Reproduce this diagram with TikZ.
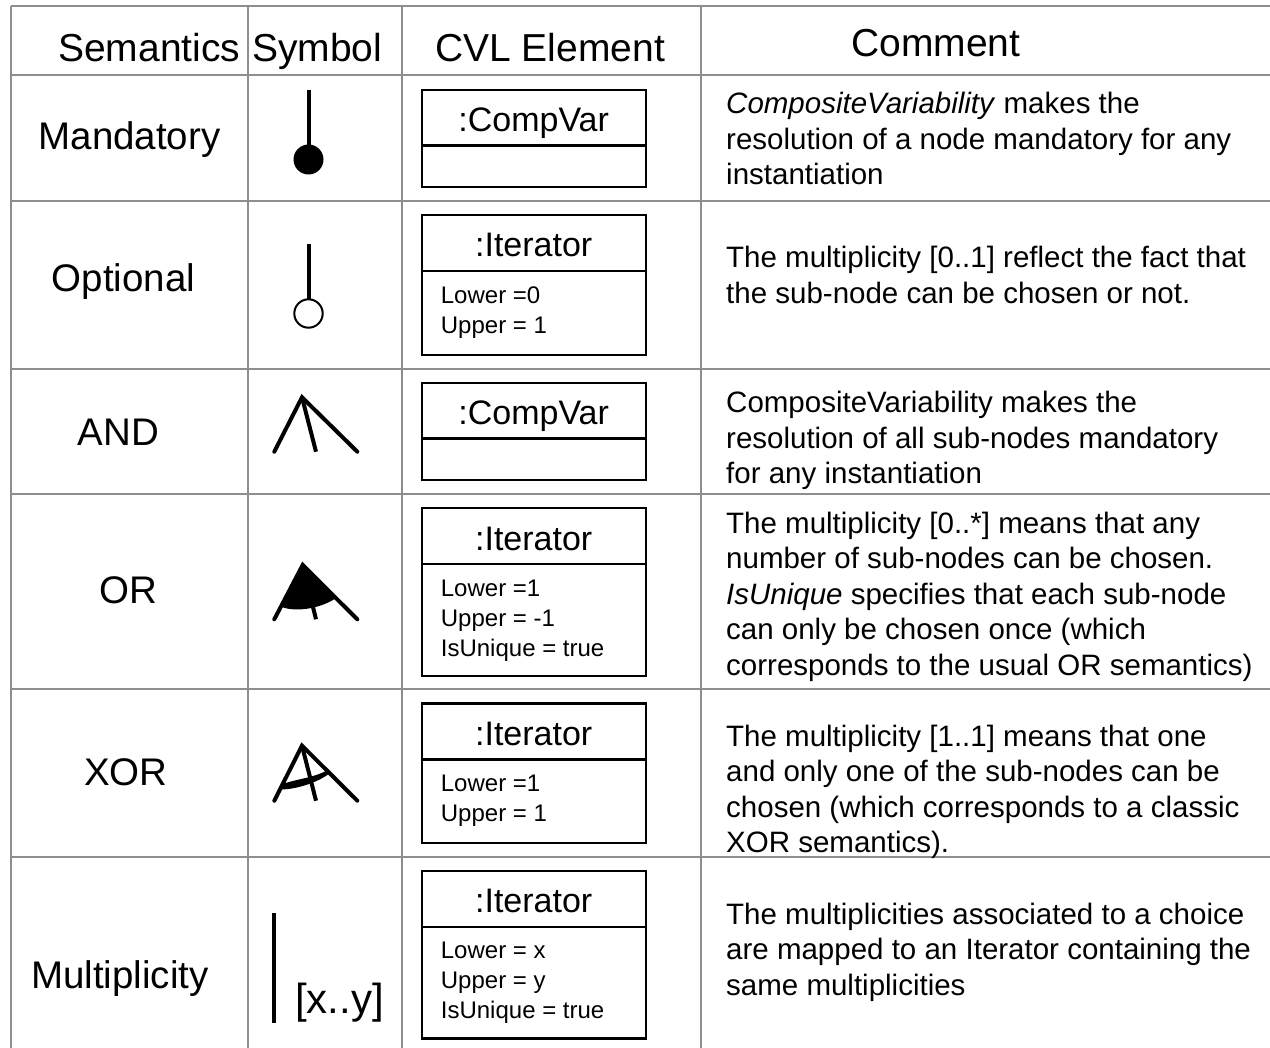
\documentclass[tikz,border=0pt]{standalone}
\usepackage{fontspec}
\setmainfont{Liberation Sans}
\definecolor{gridgray}{HTML}{8E8E8E}
\begin{document}
\begin{tikzpicture}[x=1pt,y=-1pt,
  gridline/.style={draw=gridgray, line width=2.2pt},
  hdr/.style={font=\fontsize{39}{47}\selectfont, inner sep=0pt, anchor=base west},
  sem/.style={font=\fontsize{38.5}{46}\selectfont, inner sep=0pt, anchor=base},
  cvl/.style={draw=black, line width=2.4pt},
  ttl/.style={font=\fontsize{34}{40}\selectfont, inner sep=0pt, anchor=base},
  attr/.style={font=\fontsize{24}{30}\selectfont, inner sep=0pt, anchor=base west, align=left},
  cmt/.style={font=\fontsize{29.5}{35.5}\selectfont, inner sep=0pt, anchor=base west, align=left},
  symline/.style={line width=4pt}]
\useasboundingbox (0,0) rectangle (1270,1048);
\fill[white] (0,0) rectangle (1270,1048);
% grid
\foreach \x in {11,248,402,701} \draw[gridline] (\x,6) -- (\x,1048);
\foreach \y in {6,75,201,369,494,689,857} \draw[gridline] (11,\y) -- (1270,\y);
% header
\node[hdr] (hsem) at (58,62) {Semantics};
\node[hdr] (hsym) at (252,62) {Symbol};
\node[hdr] (hcvl) at (435,62) {CVL Element};
\node[hdr] (hcom) at (851,57) {Comment};
% semantics
\node[sem] (smand) at (129.5,150) {Mandatory};
\node[sem] (sopt) at (123.5,292) {Optional};
\node[sem] (sand) at (118.5,446) {AND};
\node[sem] (sor) at (128.5,603) {OR};
\node[sem] (sxor) at (126,785) {XOR};
\node[sem] (smul) at (120,988) {Multiplicity};
% symbols
\draw[symline] (309.3,90) -- (309.3,150);
\fill (308.5,159.5) circle (15);
\draw[symline] (308.7,244) -- (308.7,300);
\draw[line width=2pt] (308.5,313.5) circle (14.2);
% AND
\draw[symline, line cap=round] (274.3,451.7) -- (302,397.3) -- (357.3,451.7);
\draw[symline] (302,397.3) -- (316,451.7);
% OR
\fill (302.7,565) -- (280.9,606.6) .. controls (293,612) and (318,610) .. (336,598.1) -- cycle;
\draw[symline, line cap=round] (274.3,619.3) -- (302.7,565) -- (357.3,619.3);
\draw[symline] (302.7,565) -- (316,619.3);
% XOR
\draw[symline, line cap=round] (274.3,800.7) -- (302,745.7) -- (357.3,800.7);
\draw[symline] (302,745.7) -- (316,800.7);
\fill (281.7,784.5) .. controls (295,779) and (315,778) .. (328.3,769.5)
  -- (329.5,773.5) .. controls (315,784) and (295,789) .. (282.3,789.5) -- cycle;
% Multiplicity
\draw[symline] (274.3,913.3) -- (274.3,1023.3);
\node[font=\fontsize{42}{50}\selectfont, inner sep=0pt, anchor=base west] (mxy) at (295,1013) {[x..y]};
% CVL boxes
\draw[cvl] (421.7,90) rectangle (645.7,187.3); \draw[cvl] (421.7,145.7) -- (645.7,145.7);
\node[ttl] (t1) at (533.7,131.7) {:CompVar};
\draw[cvl] (421.7,215) rectangle (645.7,355); \draw[cvl] (421.7,271) -- (645.7,271);
\node[ttl] (t2) at (533.7,256.7) {:Iterator};
\node[attr] (a2) at (440.7,333.3) {Lower =0\\Upper = 1};
\draw[cvl] (421.7,383) rectangle (645.7,480.3); \draw[cvl] (421.7,438.7) -- (645.7,438.7);
\node[ttl] (t3) at (533.7,424.7) {:CompVar};
\draw[cvl] (421.7,508.3) rectangle (645.7,675.7); \draw[cvl] (421.7,564) -- (645.7,564);
\node[ttl] (t4) at (533.7,550.7) {:Iterator};
\node[attr] (a4) at (440.7,656.7) {Lower =1\\Upper = -1\\IsUnique = true};
\draw[cvl] (421.7,703.3) rectangle (645.7,842.7); \draw[cvl] (421.7,759.3) -- (645.7,759.3);
\node[ttl] (t5) at (533.7,745) {:Iterator};
\node[attr] (a5) at (440.7,821.7) {Lower =1\\Upper = 1};
\draw[cvl] (421.7,870.7) rectangle (645.7,1038.3); \draw[cvl] (421.7,926.7) -- (645.7,926.7);
\node[ttl] (t6) at (533.7,912.3) {:Iterator};
\node[attr] (a6) at (440.7,1018.3) {Lower = x\\Upper = y\\IsUnique = true};
% comments
\node[cmt] (c1) at (726,185) {\textit{CompositeVariability} makes the\\resolution of a node mandatory for any\\instantiation};
\node[cmt] (c2) at (726,303.5) {The multiplicity [0..1] reflect the fact that\\the sub-node can be chosen or not.};
\node[cmt] (c3) at (726,484) {CompositeVariability makes the\\resolution of all sub-nodes mandatory\\for any instantiation};
\node[cmt] (c4) at (726,675) {The multiplicity [0..*] means that any\\number of sub-nodes can be chosen.\\\textit{IsUnique} specifies that each sub-node\\can only be chosen once (which\\corresponds to the usual OR semantics)};
\node[cmt] (c5) at (726,852.5) {The multiplicity [1..1] means that one\\and only one of the sub-nodes can be\\chosen (which corresponds to a classic\\XOR semantics).};
\node[cmt] (c6) at (726,995) {The multiplicities associated to a choice\\are mapped to an Iterator containing the\\same multiplicities};
\end{tikzpicture}
\end{document}
